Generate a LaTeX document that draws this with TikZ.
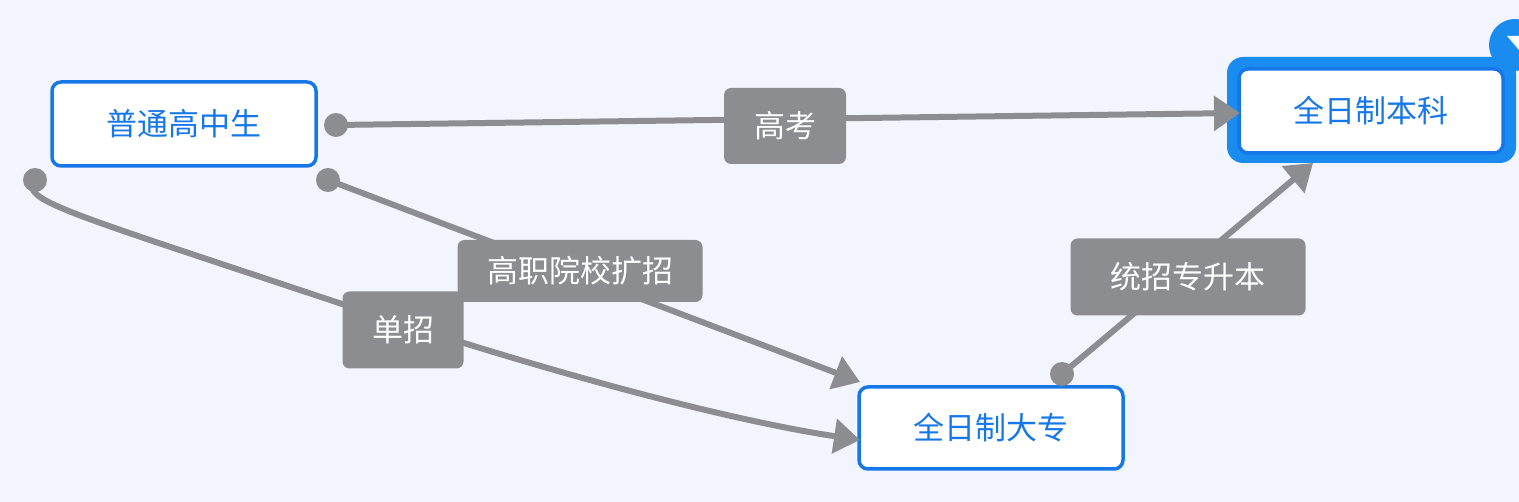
\documentclass[tikz,border=0pt]{standalone}
\usepackage{fontspec}
\newfontfamily\cjk{Noto Sans CJK SC}
\usetikzlibrary{arrows.meta}
\definecolor{bg}{HTML}{F2F5FD}
\definecolor{bl}{HTML}{1677E8}
\definecolor{hl}{HTML}{1A8CF0}
\definecolor{gr}{HTML}{8C8D91}
\tikzset{
 topic/.style={draw=bl,line width=3.5pt,fill=white,rounded corners=9pt,text=bl,font=\cjk\fontsize{31}{36}\selectfont,inner sep=0pt},
 lab/.style={fill=gr,rounded corners=7pt,text=white,font=\cjk\fontsize{31}{36}\selectfont,inner sep=0pt},
 conn/.style={draw=gr,line width=6pt,-{Triangle[length=26pt,width=34pt]}},
 dot/.style={circle,fill=gr,inner sep=0pt,minimum size=24pt}
}
\begin{document}
\begin{tikzpicture}[x=1pt,y=-1pt]
\useasboundingbox (0,0) rectangle (1519,502);
\fill[bg] (0,0) rectangle (1519,502);
% highlight
\fill[hl] (1515,45) circle (26);
\fill[white] (1507,36) -- (1519,36) -- (1519,50) -- cycle;
\fill[hl,rounded corners=16pt] (1227,57) rectangle (1516,163);
\node[topic,minimum width=264pt,minimum height=84pt] (A) at (184,124) {普通高中生};
\node[topic,minimum width=264pt,minimum height=84pt] (B) at (1371,111) {全日制本科};
\node[topic,minimum width=264pt,minimum height=82pt] (C) at (991,428) {全日制大专};
\coordinate (d1) at (336,125);
\coordinate (d2) at (328,180);
\coordinate (d3) at (35,180);
\coordinate (d4) at (1062,374);
\coordinate (e1) at (1240,113);
\coordinate (e2) at (860,382);
\coordinate (e3) at (860,440);
\coordinate (e4) at (1313,163);
\draw[conn] (d1) -- (e1);
\draw[conn] (d2) -- (e2);
\draw[conn] (d3) .. controls (20,200) and (60,210) .. (330,300) .. controls (600,390) and (760,425) .. (e3);
\draw[conn] (d4) -- (e4);
\foreach \p in {d1,d2,d3,d4} \node[dot] at (\p) {};
\node[lab,minimum width=122pt,minimum height=76pt] (L1) at (785,126) {高考};
\node[lab,minimum width=245pt,minimum height=62pt] (L2) at (580,271) {高职院校扩招};
\node[lab,minimum width=121pt,minimum height=77pt] (L3) at (403,330) {单招};
\node[lab,minimum width=235pt,minimum height=77pt] (L4) at (1188,277) {统招专升本};
\end{tikzpicture}
\end{document}
